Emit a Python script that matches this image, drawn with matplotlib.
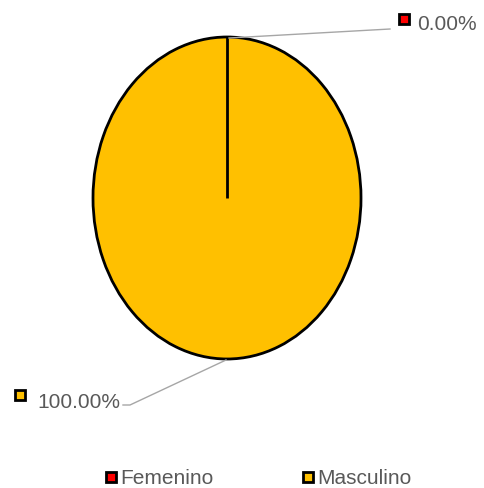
import matplotlib
matplotlib.use("Agg")
import numpy as np
import matplotlib.pyplot as plt

categories = ["Femenino", "Masculino"]
values = [0.0, 100.0]
colors = ["#FF0000", "#FFC000"]
start_angle = 90

plt.rcParams['font.family'] = ['Liberation Sans', 'DejaVu Sans']
W, H = 485, 489
fig = plt.figure(figsize=(W/100, H/100), dpi=100)

def fx(x): return x / W
def fy(y): return 1 - y / H

ax = fig.add_axes([fx(93), fy(360), (361-93)/W, (360-38)/H])
ax.pie(values, colors=colors, startangle=start_angle, counterclock=False,
       wedgeprops=dict(edgecolor="black", linewidth=2))
# boundary of the zero-size wedge
a = np.deg2rad(start_angle)
ax.plot([0, np.cos(a)], [0, np.sin(a)], color="black", lw=2, solid_capstyle='butt')
ax.set_aspect('auto')
ax.set_xlim(-1.0, 1.0)
ax.set_ylim(-1.0, 1.0)
ax.axis('off')

txtc = "#595959"
linec = "#A6A6A6"
fs = 15
# label for Femenino (top right)
fig.add_artist(plt.Line2D([fx(229), fx(390)], [fy(39), fy(30)], color=linec, lw=1.0))
fig.add_artist(plt.Line2D([fx(404)], [fy(20)], marker='s', markersize=7,
                          markerfacecolor=colors[0], markeredgecolor='black', markeredgewidth=2))
fig.text(fx(417), fy(24), f"{values[0]:.2f}%", color=txtc, fontsize=fs, va='center', ha='left')
# label for Masculino (bottom left)
fig.add_artist(plt.Line2D([fx(123), fx(130), fx(226)], [fy(406), fy(406), fy(361)], color=linec, lw=1.0))
fig.add_artist(plt.Line2D([fx(20)], [fy(396)], marker='s', markersize=7,
                          markerfacecolor=colors[1], markeredgecolor='black', markeredgewidth=2))
fig.text(fx(37), fy(402), f"{values[1]:.2f}%", color=txtc, fontsize=fs, va='center', ha='left')

# legend
for name, c, xm in zip(categories, colors, [111, 308]):
    fig.add_artist(plt.Line2D([fx(xm)], [fy(478)], marker='s', markersize=7,
                              markerfacecolor=c, markeredgecolor='black', markeredgewidth=2))
    fig.text(fx(xm + 9), fy(479), name, color=txtc, fontsize=fs, va='center', ha='left')

fig.savefig("out.png", dpi=100)
